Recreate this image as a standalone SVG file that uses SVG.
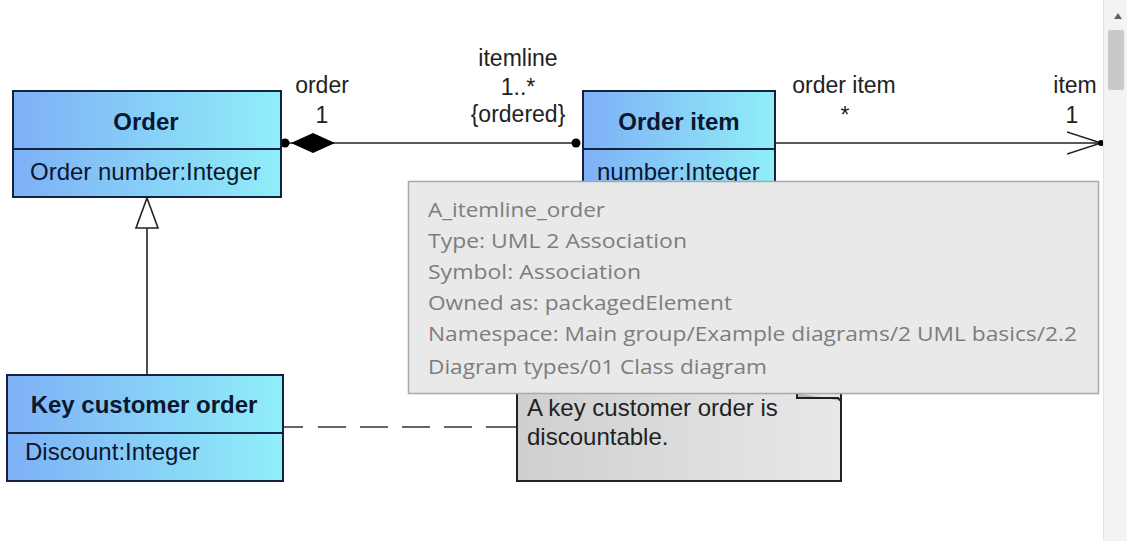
<svg xmlns="http://www.w3.org/2000/svg" width="1127" height="541" viewBox="0 0 1127 541">
<defs>
<linearGradient id="cls" x1="0" y1="0" x2="1" y2="0">
<stop offset="0" stop-color="#7eb0f6"/>
<stop offset="1" stop-color="#90eef8"/>
</linearGradient>
<linearGradient id="note" x1="0" y1="0" x2="1" y2="0">
<stop offset="0" stop-color="#cfcfcf"/>
<stop offset="1" stop-color="#e8e8e8"/>
</linearGradient>
<marker id="openArrow" markerWidth="40" markerHeight="30" refX="34" refY="12" orient="auto" markerUnits="userSpaceOnUse">
<path d="M0,1 L34,12 L0,23" fill="none" stroke="#222" stroke-width="1.5"/>
</marker>
</defs>
<style>
.box{fill:url(#cls);stroke:#14213d;stroke-width:2}
.div{stroke:#14213d;stroke-width:2}
.title{font-family:"Liberation Sans",Arial,sans-serif;font-weight:bold;font-size:24px;fill:#0b1630;text-anchor:middle}
.attr{font-family:"Liberation Sans",Arial,sans-serif;font-size:24px;fill:#0b1630}
.lbl{font-family:"Liberation Sans",Arial,sans-serif;font-size:23px;fill:#222;text-anchor:middle}
.line{stroke:#222;stroke-width:1.6;fill:none}
.tip{font-family:"Open Sans","Noto Sans",sans-serif;font-size:20px;fill:#7d7d7d}
.notetxt{font-family:"Liberation Sans",Arial,sans-serif;font-size:24px;fill:#222}
</style>
<rect width="1127" height="541" fill="#ffffff"/>

<g id="connectors">
<!-- generalization -->
<line class="line" x1="147" y1="228" x2="147" y2="375"/>
<polygon points="147,198 136,228 158,228" fill="#fff" stroke="#222" stroke-width="1.6"/>
<!-- composition -->
<line class="line" x1="285" y1="143" x2="577" y2="143"/>
<polygon points="291,143 313,133 335,143 313,153" fill="#000"/>
<circle cx="285" cy="143" r="4.5" fill="#000"/>
<circle cx="576" cy="143" r="4.5" fill="#000"/>
<!-- directed association -->
<line class="line" x1="775" y1="143" x2="1101" y2="143" marker-end="url(#openArrow)"/>
<circle cx="1101" cy="143" r="3" fill="#000"/>
<!-- note anchor -->
<line x1="283" y1="427" x2="517" y2="427" stroke="#333" stroke-width="1.6" stroke-dasharray="20 15 28 14 28 14 28 14 28 14 30"/>
<!-- labels -->
<text class="lbl" x="322" y="93">order</text>
<text class="lbl" x="322" y="123">1</text>
<text class="lbl" x="518" y="66">itemline</text>
<text class="lbl" x="518" y="95">1..*</text>
<text class="lbl" x="518" y="122">{ordered}</text>
<text class="lbl" x="844" y="93">order item</text>
<text class="lbl" x="845" y="123">*</text>
<text class="lbl" x="1075" y="93">item</text>
<text class="lbl" x="1072" y="123">1</text>
</g>

<g id="node-order">
<rect class="box" x="13" y="91" width="268" height="106"/>
<line class="div" x1="13" y1="149" x2="281" y2="149"/>
<text class="title" x="146" y="130">Order</text>
<text class="attr" x="30" y="180">Order number:Integer</text>
</g>

<g id="node-orderitem">
<rect class="box" x="583" y="91" width="192" height="116"/>
<line class="div" x1="583" y1="149" x2="775" y2="149"/>
<text class="title" x="679" y="130">Order item</text>
<text class="attr" x="597" y="180">number:Integer</text>
</g>

<g id="node-keycustomerorder">
<rect class="box" x="7" y="375" width="276" height="106"/>
<line class="div" x1="7" y1="433" x2="283" y2="433"/>
<text class="title" x="144" y="413">Key customer order</text>
<text class="attr" x="25" y="460">Discount:Integer</text>
</g>

<g id="node-note">
<path d="M517,385 H841 V481 H517 Z" fill="url(#note)" stroke="#222" stroke-width="2"/>
<path d="M797,393 V398 H838 L841,401" fill="#b8b8b8" stroke="#222" stroke-width="2"/>
<text class="notetxt" x="527" y="416">A key customer order is</text>
<text class="notetxt" x="527" y="445">discountable.</text>
</g>

<g id="tooltip">
<rect x="408.5" y="181.5" width="690" height="212" fill="#e9e9e9" stroke="#a8a8a8" stroke-width="1.5"/>
<text class="tip" x="428" y="217" textLength="177" lengthAdjust="spacingAndGlyphs">A_itemline_order</text>
<text class="tip" x="428" y="248" textLength="259" lengthAdjust="spacingAndGlyphs">Type: UML 2 Association</text>
<text class="tip" x="428" y="279" textLength="213" lengthAdjust="spacingAndGlyphs">Symbol: Association</text>
<text class="tip" x="428" y="310" textLength="304" lengthAdjust="spacingAndGlyphs">Owned as: packagedElement</text>
<text class="tip" x="428" y="341" textLength="649" lengthAdjust="spacingAndGlyphs">Namespace: Main group/Example diagrams/2 UML basics/2.2</text>
<text class="tip" x="428" y="374" textLength="339" lengthAdjust="spacingAndGlyphs">Diagram types/01 Class diagram</text>
</g>

<g id="scrollbar">
<rect x="1103" y="0" width="24" height="541" fill="#f3f3f3"/>
<line x1="1103.5" y1="0" x2="1103.5" y2="541" stroke="#e2e2e2" stroke-width="1"/>
<polygon points="1114,19 1122,19 1118,13" fill="#606060"/>
<rect x="1108" y="30" width="16" height="60" rx="2" fill="#c9c9c9"/>
</g>
</svg>
